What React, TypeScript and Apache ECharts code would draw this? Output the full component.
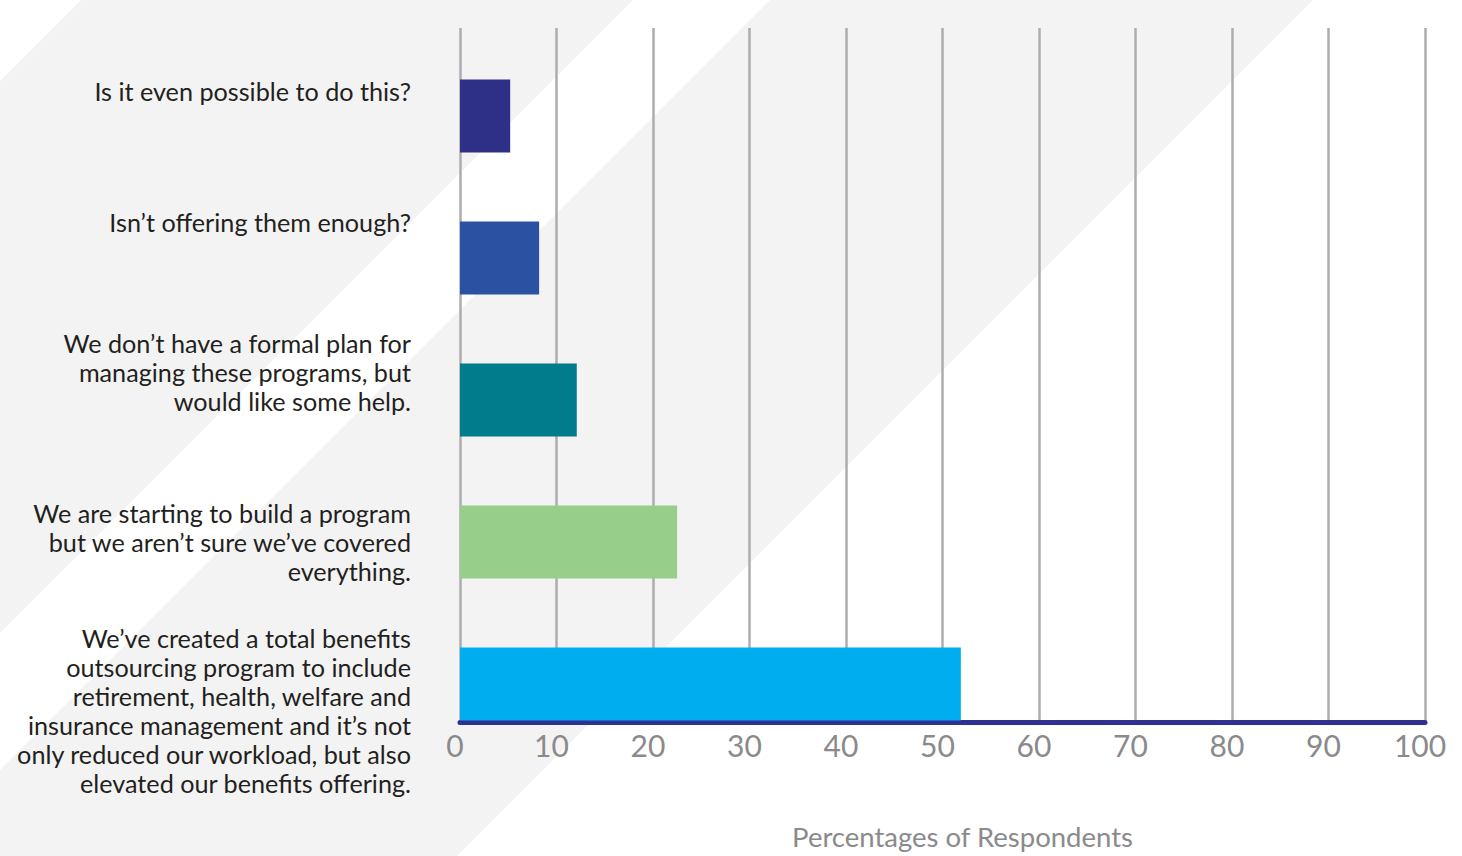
import React, { useEffect, useRef } from "react";
import * as echarts from "echarts";

const categories = [
  "Is it even possible to do this?",
  "Isn’t offering them enough?",
  "We don’t have a formal plan for\nmanaging these programs, but\nwould like some help.",
  "We are starting to build a program\nbut we aren’t sure we’ve covered\neverything.",
  "We’ve created a total benefits\noutsourcing program to include\nretirement, health, welfare and\ninsurance management and it’s not\nonly reduced our workload, but also\nelevated our benefits offering.",
];
const values = [5.2, 8.2, 12.1, 22.5, 51.9];
const barColors = ["#2e3088", "#2b51a3", "#007c8c", "#97ce8a", "#00aeef"];
// vertical nudge of each category label (px, negative = up)
const labelShift = [-25, -36, -28, 0, 26];
const axisMin = 0;
const axisMax = 100;
const axisStep = 10;
const axisTitle = "Percentages of Respondents";

export default function App() {
  const ref = useRef<HTMLDivElement>(null);
  useEffect(() => {
    if (!ref.current) return;
    const chart = echarts.init(ref.current, undefined, { renderer: "svg" });
    const font = "Lato, 'Noto Sans', sans-serif";
    const rich: Record<string, any> = {};
    labelShift.forEach((s, i) => {
      rich["g" + i] = { lineHeight: Math.max(1, Math.abs(2 * s)), fontSize: 1 };
    });
    chart.setOption({
      animation: false,
      backgroundColor: "#ffffff",
      graphic: [
        {
          type: "polygon",
          z: -10,
          silent: true,
          shape: { points: [[81, 0], [633, 0], [0, 633], [0, 81]] },
          style: { fill: "#f3f3f3" },
        },
        {
          type: "polygon",
          z: -10,
          silent: true,
          shape: { points: [[770, 0], [1313, 0], [457, 856], [0, 856], [0, 770]] },
          style: { fill: "#f3f3f3" },
        },
      ],
      grid: [
        { left: 460, right: 37, top: 28, bottom: 134, containLabel: false, outerBoundsMode: "none" },
        { left: 460, right: 37, top: 45, bottom: 101, containLabel: false, outerBoundsMode: "none" },
      ],
      xAxis: [
        {
          type: "value",
          gridIndex: 0,
          min: axisMin,
          max: axisMax,
          interval: axisStep,
          axisLine: { show: true, lineStyle: { color: "#2e3192", width: 5 } },
          axisTick: { show: false },
          splitLine: { show: true, lineStyle: { color: "#acacb1", width: 2.5 } },
          axisLabel: {
            color: "#8a8a8c",
            fontSize: 30,
            fontFamily: font,
            margin: 8,
            padding: [0, 10, 0, 0],
          },
          name: axisTitle,
          nameLocation: "middle",
          nameGap: 100,
          nameTextStyle: {
            color: "#8a8a8c",
            fontSize: 27.5,
            fontFamily: font,
            padding: [0, 0, 0, 40],
          },
        },
        {
          type: "value",
          gridIndex: 1,
          min: axisMin,
          max: axisMax,
          interval: axisStep,
          show: false,
          splitLine: { show: false },
        },
      ],
      yAxis: [
        {
          type: "category",
          gridIndex: 0,
          show: false,
          data: categories,
          inverse: true,
        },
        {
          type: "category",
          gridIndex: 1,
          inverse: true,
          data: categories,
          axisLine: { show: false },
          axisTick: { show: false },
          splitLine: { show: false },
          axisLabel: {
            interval: 0,
            hideOverlap: false,
            color: "#231f20",
            fontSize: 25.2,
            lineHeight: 29,
            fontFamily: font,
            margin: 49,
            align: "right",
            rich,
            formatter: (v: string, i: number) => {
              const s = labelShift[i];
              if (s < 0) return v + "\n{g" + i + "| }";
              if (s > 0) return "{g" + i + "| }\n" + v;
              return v;
            },
          },
        },
      ],
      series: [
        {
          type: "bar",
          xAxisIndex: 1,
          yAxisIndex: 1,
          barWidth: 73,
          data: values.map((v, i) => ({ value: v, itemStyle: { color: barColors[i] } })),
        },
      ],
    });
    return () => chart.dispose();
  }, []);
  return (
    <div
      ref={ref}
      style={{ position: "fixed", left: 0, top: 0, width: 1462, height: 856 }}
    />
  );
}
